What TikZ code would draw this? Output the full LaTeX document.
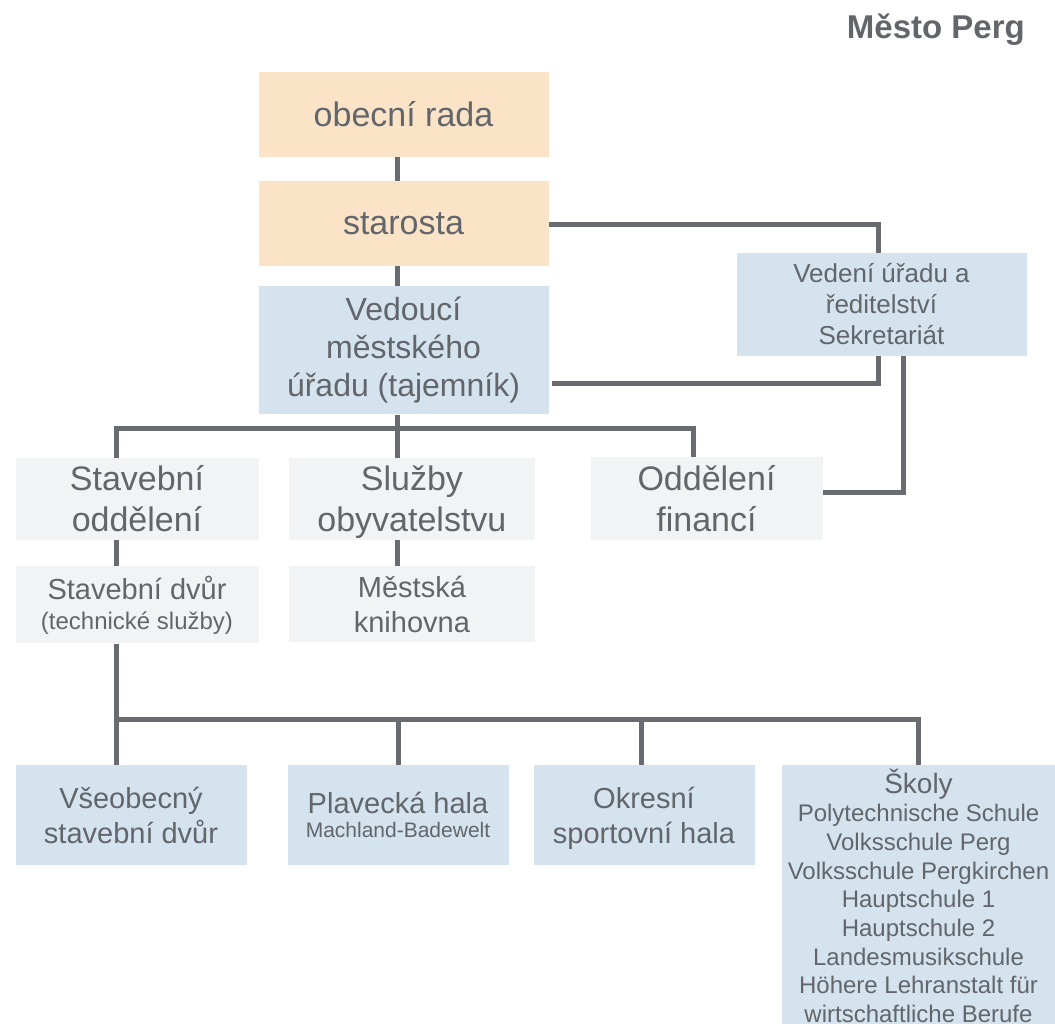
\documentclass[tikz,border=0pt]{standalone}
\usepackage{fontspec}
\setmainfont{Liberation Sans}
\usepackage{xcolor}
\usepackage{tikz}
\usetikzlibrary{positioning, calc}
\definecolor{boxpeach}{RGB}{251,227,199}
\definecolor{boxblue}{RGB}{212,227,237}
\definecolor{boxgrey}{RGB}{242,243,245}
\definecolor{linegrey}{RGB}{104,108,112}
\definecolor{textgrey}{RGB}{98,102,107}
\tikzset{
    orgbox/.style={rectangle, inner sep=0pt, align=center, text=textgrey},
    council/.style={orgbox, fill=boxpeach, minimum width=290pt, minimum height=85pt, font=\fontsize{34}{41}\selectfont},
    office/.style={orgbox, fill=boxblue},
    dept/.style={orgbox, fill=boxgrey},
    link/.style={draw=linegrey, line width=5pt},
    heading/.style={font=\bfseries\fontsize{33}{40}\selectfont, text=textgrey, inner sep=0pt}
}
\begin{document}
\begin{tikzpicture}[x=1pt, y=-1pt]
        \useasboundingbox (0,0) rectangle (1055,1023);
        \clip (0,0) rectangle (1055,1023);

        \node[heading, anchor=base east] (title) at (1025,38) {Město Perg};

        % Top: council, mayor, town office
        \node[council] (rada) at (403.5,114) {obecní rada};
        \node[council, below=24pt of rada] (starosta) {starosta};
        \node[office, below=20pt of starosta, minimum width=290pt, minimum height=128pt, font=\fontsize{32}{38}\selectfont] (tajemnik) {Vedoucí\\městského\\úřadu (tajemník)};
        \node[office, minimum width=290pt, minimum height=103pt, font=\fontsize{26}{31}\selectfont] (sekretariat) at (881.5,304.5) {Vedení úřadu a\\ředitelství\\Sekretariát};

        % Departments
        \node[dept, minimum width=243pt, minimum height=82pt, font=\fontsize{34}{41}\selectfont] (stavebni) at (137,499) {Stavební\\oddělení};
        \node[dept, right=30pt of stavebni, minimum width=246pt, minimum height=82pt, text depth=0pt, font=\fontsize{34}{41}\selectfont] (sluzby) {Služby\\obyvatelstvu};
        \node[dept, minimum width=232pt, minimum height=83pt, font=\fontsize{34}{41}\selectfont] (financi) at (706.5,498.5) {Oddělení\\financí};
        \node[dept, below=26pt of stavebni, minimum width=243pt, minimum height=77pt, font=\fontsize{29}{30}\selectfont] (dvur) {Stavební dvůr\\{\fontsize{24}{30}\selectfont (technické služby)}};
        \node[dept, below=26pt of sluzby, minimum width=246pt, minimum height=76pt, font=\fontsize{29}{35}\selectfont] (knihovna) {Městská\\knihovna};

        % Facilities
        \node[office, minimum width=231pt, minimum height=100pt, font=\fontsize{29}{35}\selectfont] (vseobecny) at (131,815) {Všeobecný\\stavební dvůr};
        \node[office, minimum width=221pt, minimum height=100pt, font=\fontsize{29}{24}\selectfont] (plavecka) at (398,815) {Plavecká hala\\{\fontsize{21}{24}\selectfont Machland-Badewelt}};
        \node[office, minimum width=221pt, minimum height=100pt, text depth=0pt, font=\fontsize{29}{35}\selectfont] (okresni) at (644,815) {Okresní\\sportovní hala};
        \node[office, anchor=north, inner ysep=4pt, minimum width=273pt, font=\fontsize{24}{28.7}\selectfont] (skoly) at (918.5,765) {{\fontsize{28}{28.7}\selectfont Školy}\\[-0.7pt]Polytechnische Schule\\Volksschule Perg\\Volksschule Pergkirchen\\Hauptschule 1\\Hauptschule 2\\Landesmusikschule\\Höhere Lehranstalt für\\wirtschaftliche Berufe\rule[-40pt]{0pt}{0pt}};

        % Connector columns and buses
        \coordinate (spine) at (397,0);
        \coordinate (lcol) at (116,0);
        \coordinate (fcol) at (693,0);
        \coordinate (rcol) at (878,0);
        \coordinate (rcol2) at (903,0);
        \coordinate (bus1) at (0,428);
        \coordinate (bus2) at (0,719);

        \draw[link] (rada.south -| spine) -- (starosta.north -| spine);
        \draw[link] (starosta.south -| spine) -- (tajemnik.north -| spine);
        \draw[link] ([yshift=-1pt]starosta.east) -| (sekretariat.north -| rcol);
        \draw[link] (sekretariat.south -| rcol) |- ([yshift=-33pt,xshift=3pt]tajemnik.east);
        \draw[link] (sekretariat.south -| rcol2) |- ([yshift=6.5pt]financi.east);

        \draw[link] (tajemnik.south -| spine) -- (bus1 -| spine) -- (sluzby.north -| spine);
        \draw[link] (stavebni.north -| lcol) -- (bus1 -| lcol) -- (bus1 -| fcol) -- (financi.north -| fcol);
        \draw[link] (stavebni.south -| lcol) -- (dvur.north -| lcol);
        \draw[link] (sluzby.south -| spine) -- (knihovna.north -| spine);

        \draw[link] (dvur.south -| lcol) -- (vseobecny.north -| lcol);
        \draw[link] (bus2 -| lcol) -- (bus2 -| skoly.north) -- (skoly.north);
        \draw[link] (bus2 -| plavecka.north) -- (plavecka.north);
        \draw[link] ($(bus2 -| okresni.north)+(-3,0)$) -- ($(okresni.north)+(-3,0)$);
    \end{tikzpicture}
\end{document}
